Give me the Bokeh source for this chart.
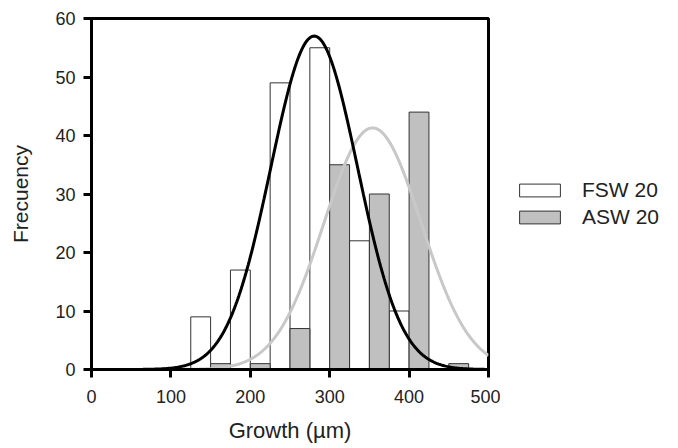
import numpy as np
from bokeh.plotting import figure
from bokeh.layouts import row
from bokeh.models import Range1d, Legend, LegendItem, FixedTicker, ColumnDataSource
from bokeh.embed import file_html
from bokeh.resources import INLINE

# Data
fsw_left = [125, 175, 225, 275, 325, 375]
fsw_counts = [9, 17, 49, 55, 22, 10]
asw_left = [150, 200, 250, 300, 350, 400, 450]
asw_counts = [1, 1, 7, 35, 30, 44, 1]
bar_width = 25
series_names = ["FSW 20", "ASW 20"]

# fitted normal curves (peak height, mean, sd)
fsw_fit = dict(peak=57.0, mean=280.5, sd=54.6, start=65, end=495)
asw_fit = dict(peak=41.3, mean=354.0, sd=61.2, start=0, end=500)

x_ticks = [0, 100, 200, 300, 400, 500]
y_ticks = [0, 10, 20, 30, 40, 50, 60]

FONT = "Liberation Sans"
TXT = "#222222"
WHITE_FILL = "white"
GREY_FILL = "#c0c0c0"
EDGE = "#333333"
H = 446

p = figure(width=500, height=H, output_backend="svg", toolbar_location=None,
           x_range=Range1d(0, 500), y_range=Range1d(0, 60),
           min_border_left=91, min_border_right=12, min_border_top=18,
           min_border_bottom=H - 369)
p.grid.visible = False
p.background_fill_color = "white"
p.border_fill_color = "white"
p.outline_line_color = "black"
p.outline_line_width = 3

fsw_src = ColumnDataSource(dict(left=fsw_left, right=[l + bar_width for l in fsw_left],
                                top=fsw_counts))
asw_src = ColumnDataSource(dict(left=asw_left, right=[l + bar_width for l in asw_left],
                                top=asw_counts))
p.quad(left="left", right="right", bottom=0, top="top", source=fsw_src,
       fill_color=WHITE_FILL, line_color=EDGE, line_width=1)
p.quad(left="left", right="right", bottom=0, top="top", source=asw_src,
       fill_color=GREY_FILL, line_color=EDGE, line_width=1)

def curve(f):
    xs = np.linspace(f["start"], f["end"], 300)
    ys = f["peak"] * np.exp(-(xs - f["mean"]) ** 2 / (2 * f["sd"] ** 2))
    return xs, ys

gx, gy = curve(asw_fit)
p.line(gx, gy, line_color="#c8c8c8", line_width=3)
bx, by = curve(fsw_fit)
p.line(bx, by, line_color="black", line_width=3)

for ax in (p.xaxis[0], p.yaxis[0]):
    ax.axis_line_width = 3
    ax.axis_line_color = "black"
    ax.major_tick_line_width = 3
    ax.major_tick_out = 8
    ax.major_tick_in = 0
    ax.minor_tick_line_color = None
    ax.major_label_text_font = FONT
    ax.major_label_text_font_size = "18px"
    ax.major_label_text_color = TXT
    ax.axis_label_text_font = FONT
    ax.axis_label_text_font_style = "normal"
    ax.axis_label_text_color = TXT

p.xaxis.axis_label_text_font_size = "22px"
p.yaxis.axis_label_text_font_size = "21px"
p.xaxis.ticker = FixedTicker(ticks=x_ticks)
p.yaxis.ticker = FixedTicker(ticks=y_ticks)
p.xaxis.axis_label = "Growth (µm)"
p.yaxis.axis_label = "Frecuency"
p.xaxis.major_label_standoff = 12
p.yaxis.major_label_standoff = 8
p.xaxis.axis_label_standoff = 12
p.yaxis.axis_label_standoff = 20

# legend panel
lg = figure(width=170, height=H, output_backend="svg", toolbar_location=None,
            x_range=Range1d(0, 1), y_range=Range1d(0, 1),
            min_border_left=0, min_border_right=0, min_border_top=0, min_border_bottom=0)
lg.axis.visible = False
lg.grid.visible = False
lg.outline_line_color = None
off = dict(left=[5], right=[6], top=[6], bottom=[5])
d1 = lg.quad(left="left", right="right", bottom="bottom", top="top",
             source=ColumnDataSource(dict(off)),
             fill_color=WHITE_FILL, line_color=EDGE, line_width=1)
d2 = lg.quad(left="left", right="right", bottom="bottom", top="top",
             source=ColumnDataSource(dict(off)),
             fill_color=GREY_FILL, line_color=EDGE, line_width=1)

legend = Legend(items=[LegendItem(label=series_names[0], renderers=[d1]),
                       LegendItem(label=series_names[1], renderers=[d2])],
                location=(14, 140))
legend.glyph_width = 51
legend.glyph_height = 16
legend.label_height = 16
legend.spacing = 3
legend.label_text_font = FONT
legend.label_text_font_size = "21px"
legend.label_text_color = TXT
legend.label_standoff = 17
legend.border_line_color = None
legend.background_fill_alpha = 0
legend.padding = 0
legend.margin = 0
lg.add_layout(legend, "center")

layout = row(p, lg, spacing=0)
open("out.html", "w").write(file_html(layout, INLINE))
